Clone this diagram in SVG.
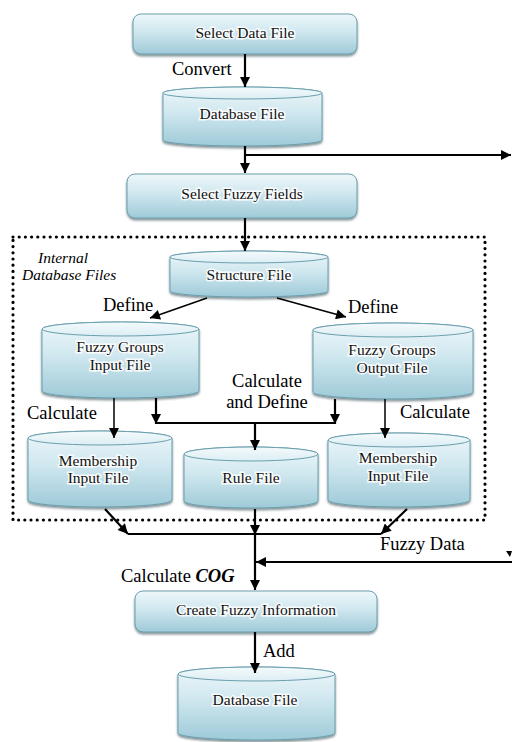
<svg xmlns="http://www.w3.org/2000/svg" width="512" height="742" viewBox="0 0 512 742">
  <defs>
    <linearGradient id="bodyFill" x1="0" y1="0" x2="0" y2="1">
      <stop offset="0" stop-color="#eef7fa"/>
      <stop offset="0.45" stop-color="#cfe7ef"/>
      <stop offset="1" stop-color="#9ecad8"/>
    </linearGradient>
    <linearGradient id="lidFill" x1="0" y1="0" x2="0" y2="1">
      <stop offset="0" stop-color="#f4fafc"/>
      <stop offset="1" stop-color="#dceef4"/>
    </linearGradient>
    <filter id="shadow" x="-10%" y="-10%" width="120%" height="130%">
      <feDropShadow dx="0" dy="2" stdDeviation="1.3" flood-color="#1e3a44" flood-opacity="0.55"/>
    </filter>
    <marker id="arrow" viewBox="0 0 10 10" refX="10" refY="5" markerWidth="11" markerHeight="10" markerUnits="userSpaceOnUse" orient="auto">
      <path d="M0,0 L10,5 L0,10 Z" fill="#000"/>
    </marker>
    <style>
      .box { fill: url(#bodyFill); stroke: #6a9fae; stroke-width: 1; filter: url(#shadow); }
      .lid { fill: url(#lidFill); stroke: #6a9fae; stroke-width: 1; }
      .nt { font-family: "Liberation Serif", "Times New Roman", serif; font-size: 15.5px; fill: #111;
            text-anchor: middle; stroke: #ffffff; stroke-width: 3; stroke-opacity: 0.85; paint-order: stroke; }
      .lbl { font-family: "Liberation Serif", "Times New Roman", serif; font-size: 18.5px; fill: #000; }
      .ital { font-family: "Liberation Serif", "Times New Roman", serif; font-size: 15.5px; font-style: italic; fill: #000; }
      .thick { stroke: #000; stroke-width: 2.2; fill: none; }
      .thin { stroke: #000; stroke-width: 1.5; fill: none; }
      .dots { fill: none; stroke: #000; stroke-width: 3.2; stroke-linecap: round; stroke-dasharray: 0 6.2; }
    </style>
  </defs>

  <!-- dotted frame around the internal database files -->
  <g id="internal-frame">
    <rect class="dots" x="13" y="237" width="472" height="283"/>
    <text class="ital" x="38" y="263">Internal</text>
    <text class="ital" x="22" y="280">Database Files</text>
  </g>

  <!-- process boxes and data stores -->
  <g id="select-data-file">
    <rect class="box" x="133" y="14" width="224" height="40" rx="8"/>
    <text class="nt" x="245" y="38">Select Data File</text>
  </g>

  <g id="database-file-top">
    <path class="box" d="M163,93 A79.5,6 0 0 1 322,93 L322,140 A79.5,6 0 0 1 163,140 Z"/>
    <ellipse class="lid" cx="242.5" cy="93" rx="79.5" ry="6"/>
    <text class="nt" x="242" y="119">Database File</text>
  </g>

  <g id="select-fuzzy-fields">
    <rect class="box" x="127" y="174" width="230" height="44" rx="8"/>
    <text class="nt" x="242" y="199">Select Fuzzy Fields</text>
  </g>

  <g id="structure-file">
    <path class="box" d="M170,257 A79,6 0 0 1 328,257 L328,291 A79,6 0 0 1 170,291 Z"/>
    <ellipse class="lid" cx="249" cy="257" rx="79" ry="6"/>
    <text class="nt" x="249" y="280">Structure File</text>
  </g>

  <g id="fuzzy-groups-input">
    <path class="box" d="M42,329 A78.5,7 0 0 1 199,329 L199,391 A78.5,7 0 0 1 42,391 Z"/>
    <ellipse class="lid" cx="120.5" cy="329" rx="78.5" ry="7"/>
    <text class="nt" x="120" y="352">Fuzzy Groups</text>
    <text class="nt" x="120" y="370">Input File</text>
  </g>

  <g id="fuzzy-groups-output">
    <path class="box" d="M313,330 A80,7 0 0 1 473,330 L473,392 A80,7 0 0 1 313,392 Z"/>
    <ellipse class="lid" cx="393" cy="330" rx="80" ry="7"/>
    <text class="nt" x="392" y="355">Fuzzy Groups</text>
    <text class="nt" x="392" y="373">Output File</text>
  </g>

  <g id="membership-input-left">
    <path class="box" d="M28,438 A72,7 0 0 1 172,438 L172,500 A72,7 0 0 1 28,500 Z"/>
    <ellipse class="lid" cx="100" cy="438" rx="72" ry="7"/>
    <text class="nt" x="98" y="466">Membership</text>
    <text class="nt" x="98" y="483">Input File</text>
  </g>

  <g id="rule-file">
    <path class="box" d="M184,454 A67,7 0 0 1 318,454 L318,501 A67,7 0 0 1 184,501 Z"/>
    <ellipse class="lid" cx="251" cy="454" rx="67" ry="7"/>
    <text class="nt" x="251" y="483">Rule File</text>
  </g>

  <g id="membership-input-right">
    <path class="box" d="M328,440 A71,7 0 0 1 470,440 L470,500 A71,7 0 0 1 328,500 Z"/>
    <ellipse class="lid" cx="399" cy="440" rx="71" ry="7"/>
    <text class="nt" x="398" y="463">Membership</text>
    <text class="nt" x="398" y="481">Input File</text>
  </g>

  <g id="create-fuzzy-information">
    <rect class="box" x="135" y="591" width="242" height="41" rx="8"/>
    <text class="nt" x="256" y="615">Create Fuzzy Information</text>
  </g>

  <g id="database-file-bottom">
    <path class="box" d="M178,674 A78.5,7 0 0 1 335,674 L335,733 A78.5,7 0 0 1 178,733 Z"/>
    <ellipse class="lid" cx="256.5" cy="674" rx="78.5" ry="7"/>
    <text class="nt" x="255" y="705">Database File</text>
  </g>

  <!-- connectors -->
  <g id="connectors">
    <line class="thick" x1="245" y1="54" x2="245" y2="87" marker-end="url(#arrow)"/>
    <line class="thick" x1="245" y1="146" x2="245" y2="173" marker-end="url(#arrow)"/>
    <line class="thick" x1="245" y1="155" x2="511" y2="155" marker-end="url(#arrow)"/>
    <line class="thick" x1="245" y1="218" x2="245" y2="251" marker-end="url(#arrow)"/>

    <line class="thin" x1="207" y1="298" x2="150" y2="318" marker-end="url(#arrow)"/>
    <line class="thin" x1="277" y1="298" x2="346" y2="317" marker-end="url(#arrow)"/>

    <line class="thin" x1="114" y1="398" x2="114" y2="438" marker-end="url(#arrow)"/>
    <line class="thick" x1="156" y1="398" x2="156" y2="424" marker-end="url(#arrow)"/>
    <line class="thick" x1="335" y1="399" x2="335" y2="424" marker-end="url(#arrow)"/>
    <line class="thick" x1="156" y1="423" x2="335" y2="423"/>
    <line class="thick" x1="255" y1="423" x2="255" y2="450" marker-end="url(#arrow)"/>
    <line class="thin" x1="385" y1="399" x2="385" y2="438" marker-end="url(#arrow)"/>

    <line class="thick" x1="105" y1="509" x2="128" y2="534" marker-end="url(#arrow)"/>
    <line class="thick" x1="255" y1="509" x2="255" y2="535" marker-end="url(#arrow)"/>
    <line class="thick" x1="407" y1="509" x2="381" y2="534" marker-end="url(#arrow)"/>
    <line class="thick" x1="128" y1="534" x2="381" y2="534"/>
    <line class="thick" x1="255" y1="534" x2="255" y2="590" marker-end="url(#arrow)"/>
    <line class="thick" x1="512" y1="562" x2="256" y2="562" marker-end="url(#arrow)"/>
    <polygon points="506,551 512,551 510,557" fill="#000"/>

    <line class="thick" x1="255" y1="632" x2="255" y2="673" marker-end="url(#arrow)"/>
  </g>

  <!-- connector labels -->
  <g id="labels">
    <text class="lbl" x="172" y="75">Convert</text>
    <text class="lbl" x="103" y="311">Define</text>
    <text class="lbl" x="348" y="313">Define</text>
    <text class="lbl" x="267" y="387" text-anchor="middle">Calculate</text>
    <text class="lbl" x="267" y="408" text-anchor="middle">and Define</text>
    <text class="lbl" x="27" y="419">Calculate</text>
    <text class="lbl" x="400" y="418">Calculate</text>
    <text class="lbl" x="380" y="550">Fuzzy Data</text>
    <text class="lbl" x="121" y="582">Calculate <tspan font-weight="bold" font-style="italic">COG</tspan></text>
    <text class="lbl" x="263" y="657">Add</text>
  </g>
</svg>
